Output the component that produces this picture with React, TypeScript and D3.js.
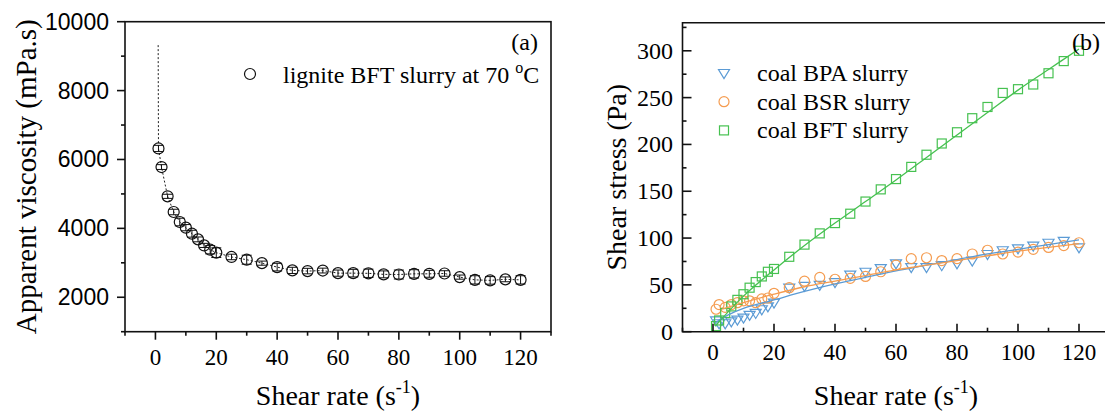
import React from "react";
import * as d3 from "d3";

// shear rates used for every series (s^-1)
const shearRates = [1, 2, 4, 6, 8, 10, 12, 14, 16, 18, 20, 25, 30, 35, 40, 45, 50, 55, 60, 65, 70, 75, 80, 85, 90, 95, 100, 105, 110, 115, 120];

// (a) apparent viscosity, mPa.s
const viscosity = [6320, 5780, 4930, 4475, 4185, 4020, 3845, 3680, 3505, 3380, 3295, 3170, 3090, 2990, 2875, 2780, 2760, 2775, 2700, 2700, 2695, 2665, 2660, 2680, 2680, 2690, 2585, 2505, 2490, 2520, 2505];
const viscosityErr = [90, 70, 60, 80, 110, 90, 100, 70, 60, 120, 140, 80, 130, 60, 110, 90, 80, 70, 90, 110, 120, 100, 130, 120, 100, 80, 60, 120, 110, 70, 120];
// the dotted curve starts above the first point
const viscFitStart = { rate: 0.9, value: 9320 };

// (b) shear stress, Pa
const stressBPA = [12, 9, 9, 11, 13, 15, 18, 20, 24, 27, 31, 47, 49, 50, 53, 61, 64, 68, 73, 69, 69, 71, 73, 76, 83, 87, 89, 92, 95, 97, 90];
const stressBSR = [24, 29, 26, 29, 31, 33, 33, 31, 35, 36, 41, 47, 54, 58, 56, 57, 59, 64, 71, 78, 79, 76, 78, 83, 87, 83, 85, 88, 90, 92, 95];
const stressBFT = [6, 12, 20, 27, 34, 40, 47, 53, 59, 64, 67, 80, 93, 105, 116, 126, 139, 152, 163, 176, 189, 201, 213, 228, 240, 255, 259, 264, 276, 289, 300];

// fitted curves
const fitBPARate = [1, 5, 10, 20, 30, 40, 50, 60, 70, 80, 90, 100, 110, 120];
const fitBPA = [10, 18, 25, 34, 43, 51, 58, 65, 71, 77, 83, 88, 93, 98];
const fitBSRRate = [3, 10, 20, 30, 40, 50, 60, 70, 80, 90, 100, 110, 120];
const fitBSR = [24, 31, 40, 48, 54, 60, 66, 71, 76, 81, 86, 90, 94];
const fitBFTRate = [0.7, 10, 20, 30, 40, 50, 60, 70, 80, 90, 100, 110, 120];
const fitBFT = [6, 38, 66, 92, 116, 139, 162, 186, 210, 234, 258, 280, 302];

const rateTicks = [0, 20, 40, 60, 80, 100, 120];
const rateMinor = [-10, 10, 30, 50, 70, 90, 110, 130];
const viscTicks = [2000, 4000, 6000, 8000, 10000];
const viscMinor = [1000, 3000, 5000, 7000, 9000];
const stressTicks = [0, 50, 100, 150, 200, 250, 300];
const stressMinor = [25, 75, 125, 175, 225, 275, 325];

const legendB = ["coal BPA slurry", "coal BSR slurry", "coal BFT slurry"];

const serif = "'Liberation Serif', 'Times New Roman', serif";
const sans = "'Liberation Sans', Arial, sans-serif";
const BLUE = "#5b9bd5";
const ORANGE = "#f59c50";
const GREEN = "#46c150";

function RateTitle({ cx }: { cx: number }) {
  return (
    <text x={cx} y={405} textAnchor="middle" fontFamily={serif} fontSize={28}>
      <tspan>Shear rate (s</tspan>
      <tspan dy={-12} fontSize={18}>-1</tspan>
      <tspan dy={12}>)</tspan>
    </text>
  );
}

function PanelA() {
  const x = d3.scaleLinear().domain([-10, 130]).range([125, 551]);
  const y = d3.scaleLinear().domain([1000, 10000]).range([331.7, 21.7]);
  const pts = shearRates.map((r, i) => ({ rate: r, value: viscosity[i], err: viscosityErr[i] }));
  const line = d3
    .line<{ rate: number; value: number }>()
    .x((d) => x(d.rate))
    .y((d) => y(d.value));
  const [x0, x1] = x.range();
  const [y0, y1] = y.range();

  return (
    <g>
      <path d={line([viscFitStart, ...pts]) || ""} fill="none" stroke="#222" strokeWidth={1} strokeDasharray="2,2" />
      {pts.map((d, i) => (
        <g key={i}>
          <circle cx={x(d.rate)} cy={y(d.value)} r={5.5} fill="none" stroke="#111" strokeWidth={1.2} />
          <line x1={x(d.rate)} x2={x(d.rate)} y1={y(d.value - d.err)} y2={y(d.value + d.err)} stroke="#111" strokeWidth={1} />
          <line x1={x(d.rate) - 5} x2={x(d.rate) + 5} y1={y(d.value - d.err)} y2={y(d.value - d.err)} stroke="#111" strokeWidth={1} />
          <line x1={x(d.rate) - 5} x2={x(d.rate) + 5} y1={y(d.value + d.err)} y2={y(d.value + d.err)} stroke="#111" strokeWidth={1} />
        </g>
      ))}
      <rect x={x0} y={y1} width={x1 - x0} height={y0 - y1} fill="none" stroke="#111" strokeWidth={1.6} />
      {rateTicks.map((t) => (
        <g key={t}>
          <line x1={x(t)} x2={x(t)} y1={y0} y2={y0 + 8} stroke="#111" strokeWidth={1.6} />
          <text x={x(t)} y={365} textAnchor="middle" fontFamily={serif} fontSize={23}>{t}</text>
        </g>
      ))}
      {rateMinor.map((t) => (
        <line key={t} x1={x(t)} x2={x(t)} y1={y0} y2={y0 + 4} stroke="#111" strokeWidth={1.6} />
      ))}
      {viscTicks.map((t) => (
        <g key={t}>
          <line x1={x0} x2={x0 - 8} y1={y(t)} y2={y(t)} stroke="#111" strokeWidth={1.6} />
          <text x={x0 - 16} y={y(t) + 8} textAnchor="end" fontFamily={sans} fontSize={23}>{t}</text>
        </g>
      ))}
      {viscMinor.map((t) => (
        <line key={t} x1={x0} x2={x0 - 4} y1={y(t)} y2={y(t)} stroke="#111" strokeWidth={1.6} />
      ))}
      <text transform={`translate(36,${(y0 + y1) / 2}) rotate(-90)`} textAnchor="middle" fontFamily={serif} fontSize={29}>
        Apparent viscosity (mPa.s)
      </text>
      <RateTitle cx={(x0 + x1) / 2} />
      <text x={538} y={50} textAnchor="end" fontFamily={serif} fontSize={24}>(a)</text>
      <circle cx={250} cy={74} r={5.5} fill="none" stroke="#111" strokeWidth={1.2} />
      <text x={283} y={83} fontFamily={serif} fontSize={24}>
        <tspan>lignite BFT slurry at 70 </tspan>
        <tspan dy={-10} fontSize={16}>o</tspan>
        <tspan dy={10}>C</tspan>
      </text>
    </g>
  );
}

function Marker({ kind, cx, cy, color }: { kind: number; cx: number; cy: number; color: string }) {
  if (kind === 0) {
    return <path d={`M${cx - 5.5},${cy - 3.5}L${cx + 5.5},${cy - 3.5}L${cx},${cy + 5.5}Z`} fill="none" stroke={color} strokeWidth={1.2} />;
  }
  if (kind === 1) return <circle cx={cx} cy={cy} r={5} fill="none" stroke={color} strokeWidth={1.2} />;
  return <rect x={cx - 4.5} y={cy - 4.5} width={9} height={9} fill="none" stroke={color} strokeWidth={1.2} />;
}

function PanelB() {
  const x = d3.scaleLinear().domain([-10, 130]).range([682.5, 1109.5]);
  const y = d3.scaleLinear().domain([0, 330]).range([331.7, 22.7]);
  const [x0, x1] = x.range();
  const [y0, y1] = y.range();
  const line = d3
    .line<[number, number]>()
    .x((d) => x(d[0]))
    .y((d) => y(d[1]))
    .curve(d3.curveCatmullRom);
  const series = [
    { values: stressBPA, color: BLUE, fit: fitBPARate.map((r, i) => [r, fitBPA[i]] as [number, number]) },
    { values: stressBSR, color: ORANGE, fit: fitBSRRate.map((r, i) => [r, fitBSR[i]] as [number, number]) },
    { values: stressBFT, color: GREEN, fit: fitBFTRate.map((r, i) => [r, fitBFT[i]] as [number, number]) },
  ];

  return (
    <g>
      {series.map((s, k) => (
        <g key={k}>
          {s.values.map((v, i) => (
            <Marker key={i} kind={k} cx={x(shearRates[i])} cy={y(v)} color={s.color} />
          ))}
        </g>
      ))}
      {series.map((s, k) => (
        <path key={k} d={line(s.fit) || ""} fill="none" stroke={s.color} strokeWidth={1.3} />
      ))}
      <path d={`M${x1},${y1}H${x0}V${y0}H${x1}`} fill="none" stroke="#111" strokeWidth={1.6} />
      {rateTicks.map((t) => (
        <g key={t}>
          <line x1={x(t)} x2={x(t)} y1={y0} y2={y0 - 8} stroke="#111" strokeWidth={1.6} />
          <text x={x(t)} y={360} textAnchor="middle" fontFamily={serif} fontSize={23}>{t}</text>
        </g>
      ))}
      {rateMinor.map((t) => (
        <line key={t} x1={x(t)} x2={x(t)} y1={y0} y2={y0 - 4} stroke="#111" strokeWidth={1.6} />
      ))}
      {stressTicks.map((t) => (
        <g key={t}>
          <line x1={x0} x2={x0 + 9} y1={y(t)} y2={y(t)} stroke="#111" strokeWidth={1.6} />
          <text x={673} y={y(t) + 8} textAnchor="end" fontFamily={serif} fontSize={24}>{t}</text>
        </g>
      ))}
      {stressMinor.map((t) => (
        <line key={t} x1={x0} x2={x0 + 4} y1={y(t)} y2={y(t)} stroke="#111" strokeWidth={1.6} />
      ))}
      <text transform={`translate(626,${(y0 + y1) / 2}) rotate(-90)`} textAnchor="middle" fontFamily={serif} fontSize={28}>
        Shear stress (Pa)
      </text>
      <RateTitle cx={(x0 + x1) / 2} />
      <text x={1100} y={50} textAnchor="end" fontFamily={serif} fontSize={24}>(b)</text>
      {legendB.map((label, k) => (
        <g key={label}>
          <Marker kind={k} cx={724} cy={73 + k * 28.7} color={series[k].color} />
          <text x={757} y={81 + k * 28.7} fontFamily={serif} fontSize={24}>{label}</text>
        </g>
      ))}
    </g>
  );
}

export default function App() {
  return (
    <svg width={1105} height={416} style={{ position: "absolute", left: 0, top: 0, background: "#fff" }}>
      <PanelA />
      <PanelB />
    </svg>
  );
}
